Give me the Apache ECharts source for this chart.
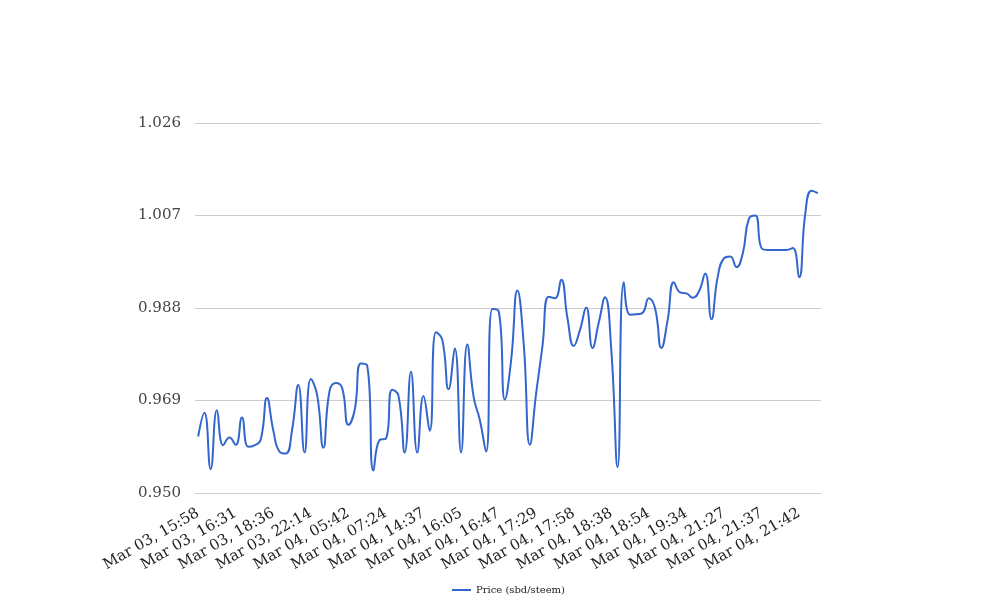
<!DOCTYPE html>
<html>
<head>
<meta charset="utf-8">
<script src="https://cdn.jsdelivr.net/npm/echarts@6/dist/echarts.min.js"></script>
<style>html,body{margin:0;padding:0;background:#fff}#c{width:1008px;height:616px}</style>
</head>
<body>
<div id="c"></div>
<script>
// Tick labels shown on the x axis (every 6th observation)
const tickLabels = [
  'Mar 03, 15:58','Mar 03, 16:31','Mar 03, 18:36','Mar 03, 22:14',
  'Mar 04, 05:42','Mar 04, 07:24','Mar 04, 14:37','Mar 04, 16:05',
  'Mar 04, 16:47','Mar 04, 17:29','Mar 04, 17:58','Mar 04, 18:38',
  'Mar 04, 18:54','Mar 04, 19:34','Mar 04, 21:27','Mar 04, 21:37',
  'Mar 04, 21:42'
];
const labelStep = 6;
const seriesName = 'Price (sbd/steem)';
const prices = [
  0.9616, 0.9665, 0.9549, 0.9670, 0.9598, 0.9614, 0.9599, 0.9655, 0.9595, 0.9598,
  0.9610, 0.9695, 0.9629, 0.9585, 0.9581, 0.9629, 0.9722, 0.9583, 0.9734, 0.9702,
  0.9593, 0.9710, 0.9726, 0.9716, 0.9640, 0.9670, 0.9766, 0.9762, 0.9546, 0.9609,
  0.9612, 0.9712, 0.9700, 0.9583, 0.9749, 0.9583, 0.9699, 0.9628, 0.9830, 0.9815,
  0.9713, 0.9797, 0.9583, 0.9805, 0.9698, 0.9650, 0.9585, 0.9878, 0.9874, 0.9692,
  0.9773, 0.9916, 0.9808, 0.9599, 0.9705, 0.9801, 0.9903, 0.9900, 0.9938, 0.9859,
  0.9802, 0.9835, 0.9881, 0.9798, 0.9850, 0.9902, 0.9794, 0.9553, 0.9933, 0.9866,
  0.9867, 0.9870, 0.9900, 0.9879, 0.9798, 0.9855, 0.9933, 0.9912, 0.9910, 0.9901,
  0.9914, 0.9951, 0.9857, 0.9944, 0.9982, 0.9986, 0.9964, 0.9992, 1.0064, 1.0070,
  1.0003, 0.9999, 0.9999, 0.9999, 0.9999, 1.0003, 0.9943, 1.0075, 1.0121, 1.0116
];
const yMin = 0.950, yMax = 1.026, yStep = 0.019;

const categories = prices.map((_, i) => (i % labelStep === 0 && tickLabels[i / labelStep]) ? tickLabels[i / labelStep] : '');

const chart = echarts.init(document.getElementById('c'), null, {renderer: 'canvas'});
chart.setOption({
  animation: false,
  backgroundColor: '#ffffff',
  textStyle: {fontFamily: 'DejaVu Serif'},
  grid: {left: 195, right: 187, top: 123, bottom: 123, containLabel: false},
  legend: {
    bottom: 16, left: 447,
    icon: 'rect', itemWidth: 19, itemHeight: 2, itemGap: 5,
    textStyle: {fontFamily: 'DejaVu Serif', fontSize: 10, color: '#222'},
    data: [seriesName]
  },
  xAxis: {
    type: 'category',
    data: categories,
    boundaryGap: true,
    axisLine: {show: false},
    axisTick: {show: false},
    axisLabel: {
      interval: labelStep - 1, rotate: 30, margin: 19,
      fontFamily: 'DejaVu Serif', fontSize: 15, color: '#222', hideOverlap: false
    },
    splitLine: {show: false}
  },
  yAxis: {
    type: 'value',
    min: yMin, max: yMax, interval: yStep,
    axisLine: {show: false},
    axisTick: {show: false},
    axisLabel: {
      margin: 14, fontFamily: 'DejaVu Serif', fontSize: 15, color: '#444',
      formatter: v => v.toFixed(3)
    },
    splitLine: {lineStyle: {color: '#cccccc', width: 1}}
  },
  series: [{
    name: seriesName,
    type: 'line',
    data: prices,
    smooth: 0.5,
    showSymbol: false,
    lineStyle: {color: '#3366cc', width: 2},
    itemStyle: {color: '#3366cc'}
  }]
});
</script>
</body>
</html>
